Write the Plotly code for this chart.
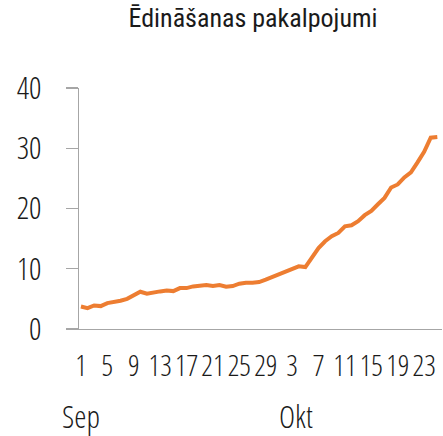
import plotly.graph_objects as go
import pandas as pd

# Data
dates = pd.date_range("2020-09-01", "2020-10-25", freq="D")
values = [3.74, 3.47, 3.9, 3.8, 4.3, 4.46, 4.7, 5.0, 5.57, 6.19,
          5.86, 6.12, 6.24, 6.4, 6.29, 6.79, 6.79, 7.07, 7.12, 7.29,
          7.12, 7.29, 7.02, 7.12, 7.52, 7.69, 7.69, 7.79, 8.19, 8.62,
          9.02, 9.4, 9.85, 10.4, 10.28, 11.95, 13.44, 14.56, 15.39, 15.94,
          17.05, 17.22, 17.89, 18.89, 19.6, 20.7, 21.76, 23.49, 23.99, 25.16,
          25.99, 27.65, 29.42, 31.75, 31.86]
tick_dates = pd.date_range("2020-09-01", "2020-10-23", freq="4D")
tick_labels = [str(d.day) for d in tick_dates]
month_dates = ["2020-09-01", "2020-10-03"]
month_labels = ["Sep", "Okt"]
y_ticks = [0, 10, 20, 30, 40]
title_text = "Ēdināšanas pakalpojumi"

TXT = "#1a1a1a"
AX = "#a6a6a6"
TICKFONT = "Open Sans Condensed Light"
TITLEFONT = "Roboto Condensed"

fig = go.Figure()
fig.add_trace(go.Scatter(x=dates, y=values, mode="lines",
                         line=dict(color="#ED7D31", width=4), hoverinfo="skip"))

start = pd.Timestamp("2020-09-01") - pd.Timedelta(hours=7)
end = start + pd.Timedelta(days=55)

fig.update_layout(
    width=443, height=436,
    margin=dict(l=79, r=1, t=88, b=107, autoexpand=False),
    paper_bgcolor="white", plot_bgcolor="white",
    showlegend=False,
    title=dict(text=title_text, x=253 / 443, xanchor="center", xref="container",
               yref="container", y=1 - 9 / 436, yanchor="top",
               font=dict(family=TITLEFONT, size=26, color=TXT)),
)

fig.update_xaxes(type="date", range=[start, end], showgrid=False, zeroline=False,
                 automargin=False,
                 showline=True, linecolor=AX, linewidth=1.3, ticks="", tickangle=0,
                 tickvals=tick_dates, ticktext=tick_labels,
                 tickfont=dict(family=TICKFONT, size=29, color=TXT),
                 ticklabelstandoff=11)
fig.update_yaxes(range=[0, 40], showgrid=False, zeroline=False,
                 automargin=False,
                 showline=True, linecolor=AX, linewidth=1.3,
                 ticks="outside", ticklen=12, tickcolor=AX, tickwidth=1.3,
                 tickvals=y_ticks, ticktext=[str(v) for v in y_ticks],
                 tickfont=dict(family=TICKFONT, size=31, color=TXT),
                 ticklabelstandoff=18)

for d, lab, xs in zip(month_dates, month_labels, [0, 4]):
    fig.add_annotation(x=d, y=0, xref="x", yref="paper", text=lab,
                       showarrow=False, xanchor="center", yanchor="top",
                       xshift=xs, yshift=-64,
                       font=dict(family=TICKFONT, size=31, color=TXT))

fig.write_html("out.html",
               config={"displayModeBar": False, "staticPlot": True},
               post_script="document.body.style.margin='0';"
                           "document.body.style.padding='0';"
                           "document.documentElement.style.overflow='hidden';")
